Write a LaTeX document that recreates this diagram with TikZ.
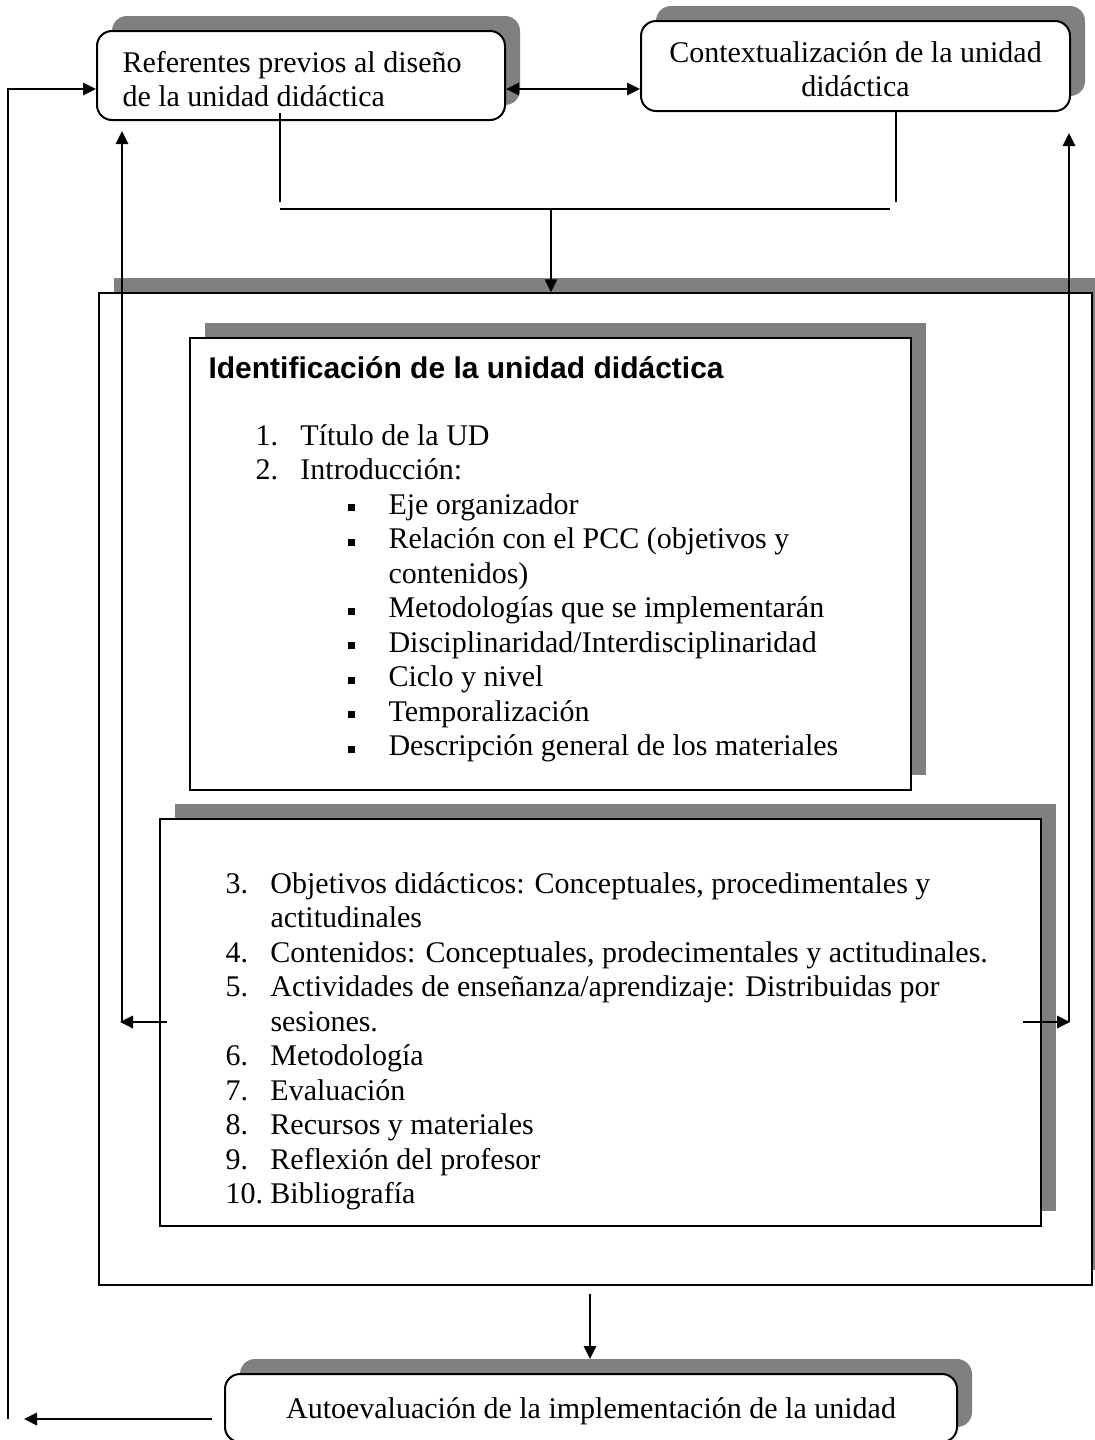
\documentclass[tikz,border=0pt]{standalone}
\usepackage{fontspec}
\setmainfont{Liberation Serif}
\newfontfamily\headfont{Liberation Sans}
\usetikzlibrary{arrows.meta,shadows}

\newlength{\pxu}
\setlength{\pxu}{0.4pt}
% list lines as they are typed in the boxes
\newcommand{\numline}[2]{\makebox[45\pxu][l]{#1}#2\par}
\newcommand{\hangline}[2][45]{\hspace*{#1\pxu}#2\par}
\newcommand{\sqline}[1]{\hspace*{92\pxu}\makebox[41\pxu][l]{\raisebox{1.1pt}{\rule{2.8pt}{2.8pt}}}#1\par}

\begin{document}
\begin{tikzpicture}[
    x=0.4pt, y=-0.4pt,
    >={Triangle[length=5.2pt,width=5pt]},
    shadowed/.style={drop shadow={shadow xshift=15\pxu, shadow yshift=15\pxu,
                     fill=black!50, opacity=1}},
    roundbox/.style={draw, line width=0.8pt, rounded corners=6pt, fill=white,
                     shadowed, inner sep=0pt},
    squarebox/.style={draw, line width=0.8pt, fill=white, shadowed, inner sep=0pt},
    txt/.style={inner sep=0pt, font=\fontsize{12}{13.8}\selectfont},
    conn/.style={line width=0.7pt}
]
    \useasboundingbox (0,0) rectangle (1094,1440);

    % top boxes
    \node[roundbox, minimum width=408\pxu, minimum height=89\pxu] (ref) at (301,75.5) {};
    \node[roundbox, minimum width=429\pxu, minimum height=90\pxu] (ctx) at (855.5,66) {};
    \node[txt, anchor=base west] (reftxt) at (122,72)
        {\begin{tabular}[t]{@{}l@{}}Referentes previos al diseño\\de la unidad didáctica\end{tabular}};
    \node[txt, anchor=base] (ctxtxt) at (855.5,62)
        {\begin{tabular}[t]{@{}c@{}}Contextualización de la unidad\\didáctica\end{tabular}};

    % the unit and its two parts
    \node[squarebox, line width=0.6pt, minimum width=993\pxu, minimum height=992\pxu] (unit) at (595.5,789) {};
    \node[squarebox, minimum width=721\pxu, minimum height=452\pxu] (ident) at (550.5,564) {};
    \node[squarebox, minimum width=881\pxu, minimum height=407\pxu] (items) at (600.5,1022.5) {};

    \node[anchor=base west, inner sep=0pt, font=\headfont\fontsize{12}{14}\selectfont\bfseries]
        (identtitle) at (208,378) {Identificación de la unidad didáctica};
    \node[txt, anchor=base west] (identlist) at (255,445) {\parbox[t]{640\pxu}{%
        \numline{1.}{Título de la UD}
        \numline{2.}{Introducción:}
        \sqline{Eje organizador}
        \sqline{Relación con el PCC (objetivos y}
        \hangline[133]{contenidos)}
        \sqline{Metodologías que se implementarán}
        \sqline{Disciplinaridad/Interdisciplinaridad}
        \sqline{Ciclo y nivel}
        \sqline{Temporalización}
        \sqline{Descripción general de los materiales}}};
    \node[txt, anchor=base west] (itemlist) at (225,893) {\parbox[t]{840\pxu}{%
        \numline{3.}{Objetivos didácticos: Conceptuales, procedimentales y}
        \hangline{actitudinales}
        \numline{4.}{Contenidos: Conceptuales, prodecimentales y actitudinales.}
        \numline{5.}{Actividades de enseñanza/aprendizaje: Distribuidas por}
        \hangline{sesiones.}
        \numline{6.}{Metodología}
        \numline{7.}{Evaluación}
        \numline{8.}{Recursos y materiales}
        \numline{9.}{Reflexión del profesor}
        \numline{10.}{Bibliografía}}};

    % bottom box
    \node[roundbox, minimum width=732\pxu, minimum height=68\pxu] (selfev) at (591,1408) {};
    \node[txt, anchor=base] (selfevtxt) at (591,1418) {Autoevaluación de la implementación de la unidad};

    % connectors
    \coordinate (merge) at (551,209);
    \coordinate (lfb) at (122,1022);
    \coordinate (rfb) at (1069,1022);
    \coordinate (back) at (8,1419);

    \draw[conn, <->] (ref.east |- 0,89) -- (ctx.west |- 0,89);
    \draw[conn] ([yshift=8\pxu]ref.south -| 280,0) -- (280,202);
    \draw[conn] (ctx.south -| 896,0) -- (896,202);
    \draw[conn] (merge -| 280,0) -- (merge -| 890,0);
    \draw[conn, ->] (merge) -- (merge |- unit.north);

    \draw[conn, ->] ([xshift=8\pxu]items.west |- lfb) -- ([xshift=-2\pxu]lfb);
    \draw[conn, ->] (lfb) -- ([yshift=-10\pxu]ref.south -| lfb);
    \draw[conn, ->] ([xshift=-19\pxu]items.east |- rfb) -- ([xshift=1\pxu]rfb);
    \draw[conn, ->] (rfb) -- ([yshift=-21\pxu]ctx.south -| rfb);

    \draw[conn, ->] ([yshift=-8\pxu]unit.south -| 590,0) -- ([yshift=14\pxu]selfev.north -| 590,0);
    \draw[conn, ->] ([xshift=-12\pxu]selfev.west |- back) -- ([xshift=16\pxu]back);
    \draw[conn, ->] (back) |- (ref.west |- 0,89);
\end{tikzpicture}
\end{document}
